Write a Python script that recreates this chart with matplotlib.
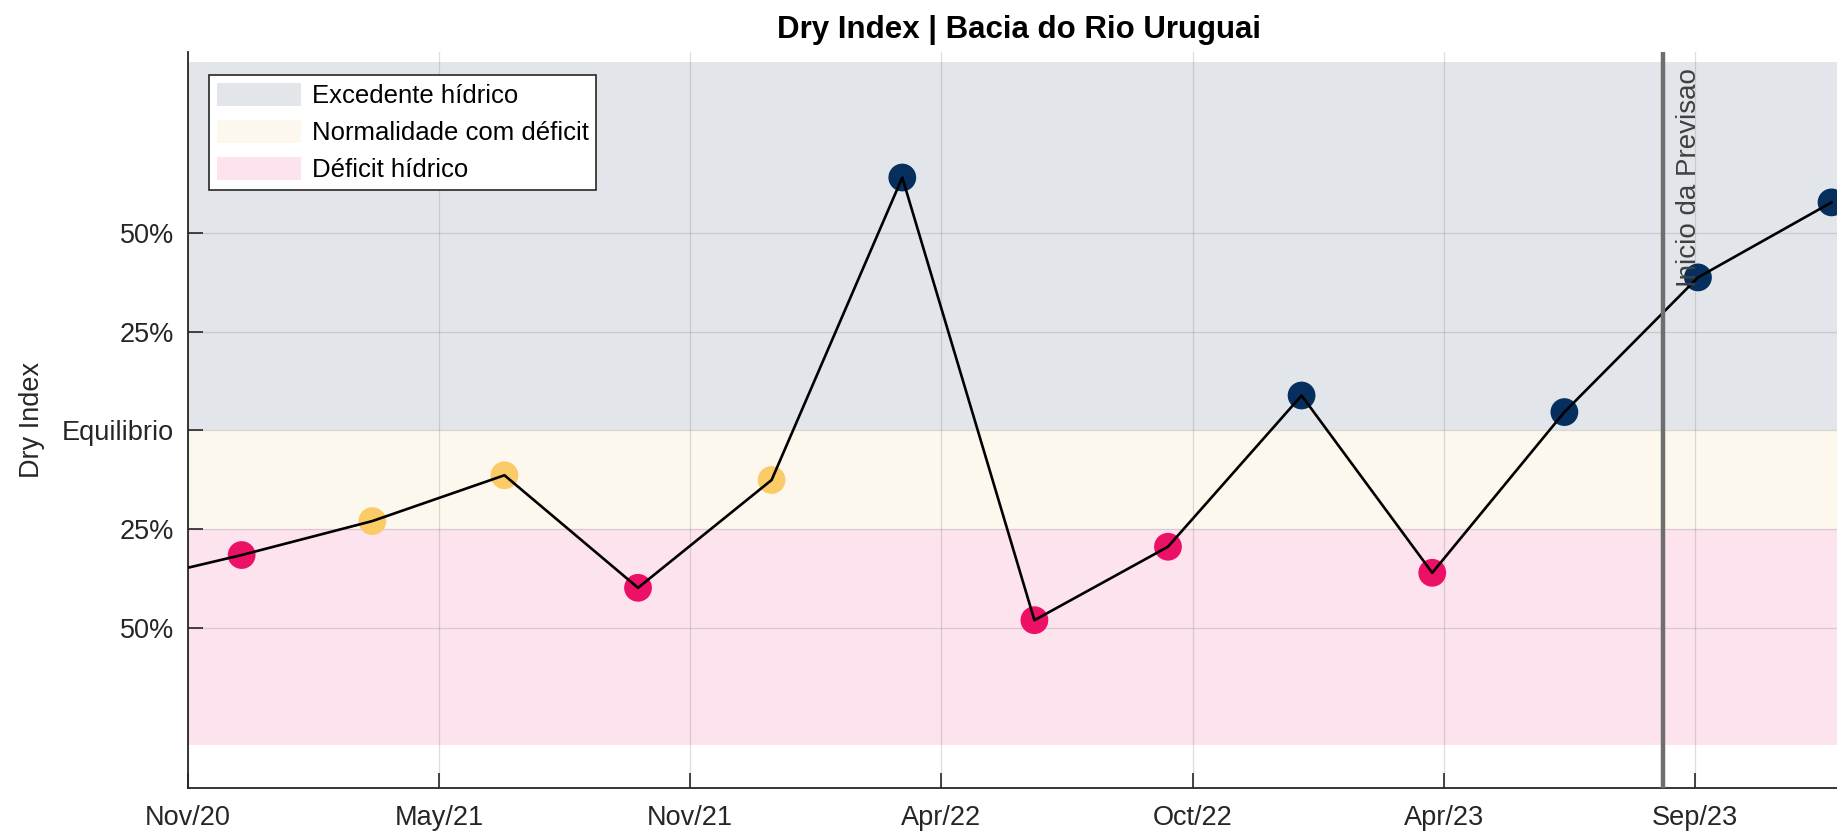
import matplotlib
matplotlib.use("Agg")
import matplotlib.pyplot as plt
import matplotlib.dates as mdates
from matplotlib.patches import Patch
import numpy as np
import pandas as pd

# quarterly dry index values (first point is left of the visible range)
dates = ["2020-10-01", "2021-01-01", "2021-04-01", "2021-07-01", "2021-10-01",
         "2022-01-01", "2022-04-01", "2022-07-01", "2022-10-01", "2023-01-01",
         "2023-04-01", "2023-07-01", "2023-10-01", "2024-01-01"]
dry_index = [-0.396, -0.316, -0.230, -0.114, -0.399, -0.126, 0.640, -0.481,
             -0.295, 0.088, -0.361, 0.046, 0.387, 0.577]

tick_dates = ["2020-11-25", "2021-05-17", "2021-11-06", "2022-04-28",
              "2022-10-18", "2023-04-09", "2023-09-29"]
ytick_vals = [-0.5, -0.25, 0, 0.25, 0.5]
ytick_labels = ["50%", "25%", "Equilibrio", "25%", "50%"]

band_labels = ["Excedente hídrico", "Normalidade com déficit", "Déficit hídrico"]
band_limits = [(0, 0.932), (-0.25, 0), (-0.797, -0.25)]
band_colors = ["#E2E6EB", "#FCF8EE", "#FCE3ED"]

forecast_start = "2023-09-07"
xlim = ["2020-11-25", "2024-01-14"]
ylim = (-0.906, 0.957)

x = pd.to_datetime(dates)
y = np.array(dry_index)

plt.rcParams['font.family'] = ['Liberation Sans', 'DejaVu Sans']
fig = plt.figure(figsize=(18.37, 8.36), dpi=100)
ax = fig.add_axes([0.1023, 0.0574, 0.905, 0.880])

for (lo, hi), c in zip(band_limits, band_colors):
    ax.axhspan(lo, hi, color=c, lw=0, zorder=0)

ax.grid(True, color="#262626", alpha=0.15, lw=0.9, zorder=1)
ax.set_axisbelow(False)

# marker colours by class
cols = np.where(y > 0, "#062F5E", np.where(y >= -0.25, "#FACB66", "#EC1066"))
ax.scatter(x, y, s=20**2, c=list(cols), zorder=3, linewidths=0)
ax.plot(x, y, color="black", lw=1.9, zorder=4)

ax.axvline(pd.Timestamp(forecast_start), color="#6E6E6E", lw=3.2, zorder=5)
ax.text(pd.Timestamp("2023-09-25"), 0.362, "Inicio da Previsao", rotation=90,
        rotation_mode="anchor", ha="left", va="center", fontsize=20,
        color="#404040", zorder=6)

ax.set_xlim(pd.Timestamp(xlim[0]), pd.Timestamp(xlim[1]))
ax.set_ylim(*ylim)
ax.set_xticks(pd.to_datetime(tick_dates))
ax.xaxis.set_major_formatter(mdates.DateFormatter("%b/%y"))
ax.set_yticks(ytick_vals)
ax.set_yticklabels(ytick_labels)
ax.tick_params(direction="in", length=11, width=1.2, colors="#262626",
               labelsize=19.5)
ax.tick_params(axis="x", pad=12)
ax.tick_params(axis="y", pad=10)
for s in ["top", "right"]:
    ax.spines[s].set_visible(False)
for s in ["left", "bottom"]:
    ax.spines[s].set_color("#262626")
    ax.spines[s].set_linewidth(1.3)

ax.set_ylabel("Dry Index", fontsize=19.5, color="#262626", labelpad=12)
ax.set_title("Dry Index | Bacia do Rio Uruguai", fontsize=22.5, fontweight="bold",
             color="black", pad=10)

handles = [Patch(facecolor=c, edgecolor="none") for c in band_colors]
leg = ax.legend(handles, band_labels, loc="upper left",
                bbox_to_anchor=(0.0126, 0.969), borderaxespad=0, fontsize=18.5,
                fancybox=False, framealpha=1, edgecolor="#262626",
                handlelength=3.3, handleheight=1.0, labelspacing=0.45,
                borderpad=0.3, handletextpad=0.4)
leg.get_frame().set_linewidth(1.2)
leg.set_zorder(10)

fig.savefig("out.png", dpi=100)
